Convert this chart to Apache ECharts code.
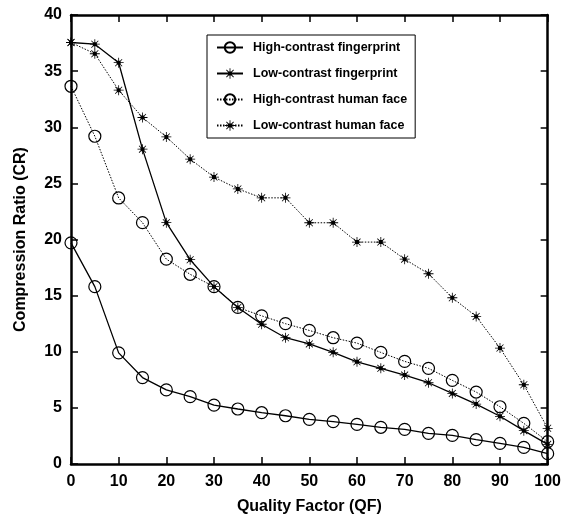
<!DOCTYPE html>
<html>
<head>
<meta charset="utf-8">
<script src="https://cdn.jsdelivr.net/npm/echarts@6/dist/echarts.min.js"></script>
<style>html,body{margin:0;padding:0;background:#fff}#c{width:564px;height:528px}</style>
</head>
<body>
<div id="c"></div>
<script>
const qualityFactor = [0,5,10,15,20,25,30,35,40,45,50,55,60,65,70,75,80,85,90,95,100];
const highFinger = [19.7,15.8,9.9,7.7,6.6,6.0,5.25,4.9,4.57,4.3,3.98,3.77,3.53,3.27,3.09,2.73,2.55,2.17,1.84,1.48,0.92];
const lowFinger = [37.55,37.4,35.75,28.05,21.5,18.2,15.8,13.95,12.45,11.25,10.7,9.95,9.1,8.52,7.92,7.24,6.29,5.34,4.25,2.97,1.75];
const highFace = [33.65,29.2,23.7,21.5,18.25,16.9,15.8,13.95,13.2,12.5,11.9,11.25,10.77,9.94,9.14,8.52,7.45,6.41,5.1,3.62,1.99];
const lowFace = [37.55,36.55,33.3,30.87,29.14,27.16,25.56,24.51,23.71,23.71,21.49,21.49,19.77,19.77,18.25,16.95,14.81,13.15,10.33,7.06,3.18];
const seriesNames = ['High-contrast fingerprint','Low-contrast fingerprint','High-contrast human face','Low-contrast human face'];
const xTicks = [0,10,20,30,40,50,60,70,80,90,100];
const yTicks = [0,5,10,15,20,25,30,35,40];

const star = 'path://M9.2,0L10.8,0L10.8,20L9.2,20Z M0,9.2L20,9.2L20,10.8L0,10.8Z M2.5,3.6L3.6,2.5L17.5,16.4L16.4,17.5Z M16.4,2.5L17.5,3.6L3.6,17.5L2.5,16.4Z M6,6L14,6L14,14L6,14Z';
const font = '"Liberation Sans", Arial, Helvetica, sans-serif';

function mk(name, data, dotted, isStar) {
  return {
    name: name,
    type: 'line',
    data: qualityFactor.map((q, i) => [q, data[i]]),
    symbol: isStar ? star : 'circle',
    symbolSize: isStar ? 10 : 12,
    showAllSymbol: true,
    lineStyle: { color: '#000', width: dotted ? 1 : 1.3, type: dotted ? [1.5, 1.5] : 'solid' },
    itemStyle: isStar ? { color: '#000', borderWidth: 0 } : { color: 'rgba(0,0,0,0)', borderColor: '#000', borderWidth: 1.2 },
    emphasis: { disabled: true },
    animation: false,
    z: isStar ? 3 : 2
  };
}

const axisCommon = {
  type: 'value',
  axisLine: { show: true, onZero: false, lineStyle: { color: '#000', width: 2.5 } },
  axisTick: { show: true, inside: true, length: 7, lineStyle: { color: '#000', width: 1.5 } },
  splitLine: { show: false }
};

const chart = echarts.init(document.getElementById('c'), null, { renderer: 'canvas' });
chart.setOption({
  backgroundColor: '#fff',
  animation: false,
  grid: { left: 71, right: 16, top: 15, bottom: 64 },
  legend: {
    orient: 'vertical',
    left: 207, top: 35,
    padding: [6, 8, 6, 9],
    itemGap: 13,
    itemWidth: 26, itemHeight: 13,
    borderColor: '#000', borderWidth: 1,
    backgroundColor: '#fff',
    data: seriesNames,
    textStyle: { fontFamily: font, fontWeight: 'bold', fontSize: 12.5, color: '#000', padding: [0, 0, 0, 5] }
  },
  xAxis: [
    Object.assign({}, axisCommon, {
      min: 0, max: 100, interval: 10, position: 'bottom',
      name: 'Quality Factor (QF)', nameLocation: 'middle', nameGap: 35,
      nameTextStyle: { fontFamily: font, fontWeight: 'bold', fontSize: 16, color: '#000' },
      axisLabel: { fontFamily: font, fontWeight: 'bold', fontSize: 16, color: '#000', margin: 10,
        formatter: v => xTicks.includes(v) ? String(v) : '' }
    }),
    Object.assign({}, axisCommon, {
      min: 0, max: 100, interval: 10, position: 'top', axisLabel: { show: false }
    })
  ],
  yAxis: [
    Object.assign({}, axisCommon, {
      min: 0, max: 40, interval: 5, position: 'left',
      name: 'Compression Ratio (CR)', nameLocation: 'middle', nameGap: 42,
      nameTextStyle: { fontFamily: font, fontWeight: 'bold', fontSize: 16, color: '#000' },
      axisLabel: { fontFamily: font, fontWeight: 'bold', fontSize: 16, color: '#000', margin: 9,
        formatter: v => yTicks.includes(v) ? String(v) : '' }
    }),
    Object.assign({}, axisCommon, {
      min: 0, max: 40, interval: 5, position: 'right', axisLabel: { show: false }
    })
  ],
  series: [
    mk(seriesNames[0], highFinger, false, false),
    mk(seriesNames[1], lowFinger, false, true),
    mk(seriesNames[2], highFace, true, false),
    mk(seriesNames[3], lowFace, true, true)
  ]
});
</script>
</body>
</html>
